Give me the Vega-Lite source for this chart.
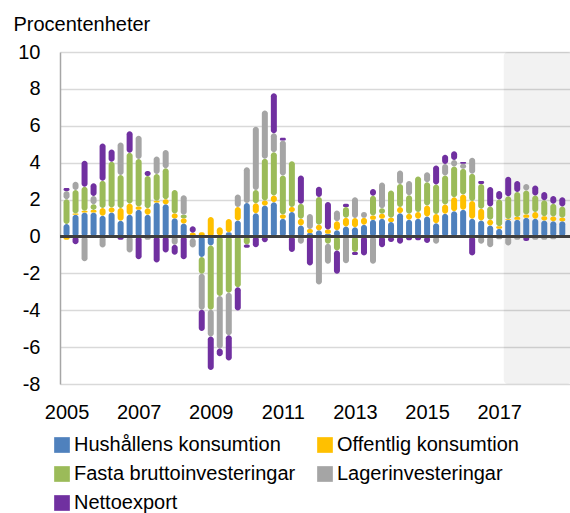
{
  "$schema": "https://vega.github.io/schema/vega-lite/v6.json",
  "width": 510,
  "height": 332,
  "autosize": {"type": "none"},
  "padding": {"left": 60, "top": 52, "right": 0, "bottom": 129},
  "background": "white",
  "config": {
    "view": {"stroke": null},
    "font": "Liberation Sans",
    "axisX": {"grid": false, "domain": false, "ticks": false,
              "labelFontSize": 20, "labelColor": "#000000", "labelFont": "Liberation Sans",
              "labelBaseline": "alphabetic", "labelPadding": 34,
              "labelFlush": false, "labelOverlap": false},
    "axisY": {"titleAngle": 0, "titleAlign": "left",
              "titleBaseline": "alphabetic", "titleX": -47, "titleY": -22,
              "titleFontSize": 20, "titleFontWeight": "normal", "titleColor": "#000000",
              "titleFont": "Liberation Sans", "tickCount": 10,
              "labelFontSize": 20, "labelColor": "#000000", "labelFont": "Liberation Sans",
              "labelPadding": 20, "ticks": false, "labelOverlap": false, "labelFlush": false,
              "domain": true, "domainColor": "#a6a6a6", "domainWidth": 1.5,
              "grid": true, "gridColor": "#d9d9d9", "gridWidth": 1.5}
  },
  "datasets": {
    "qdata": [
      {"q": 0, "s1": 0.67, "s2": -0.18, "s3": 1.35, "s4": 0.45, "s5": 0.15},
      {"q": 1, "s1": 1.17, "s2": 0.07, "s3": 1.28, "s4": 0.45, "s5": -0.42},
      {"q": 2, "s1": 1.3, "s2": 0.09, "s3": 1.3, "s4": -1.35, "s5": 1.41},
      {"q": 3, "s1": 1.3, "s2": 0.14, "s3": 0.3, "s4": 0.45, "s5": 0.69},
      {"q": 4, "s1": 1.12, "s2": 0.42, "s3": 1.48, "s4": -0.6, "s5": 2.02},
      {"q": 5, "s1": 1.3, "s2": 0.27, "s3": 2.48, "s4": 0, "s5": 0.67},
      {"q": 6, "s1": 0.85, "s2": 0.69, "s3": 1.79, "s4": 1.77, "s5": -0.18},
      {"q": 7, "s1": 1.17, "s2": 0.61, "s3": 2.76, "s4": -0.87, "s5": 1.17},
      {"q": 8, "s1": 1.45, "s2": 0.18, "s3": 2.57, "s4": 1.26, "s5": -1.23},
      {"q": 9, "s1": 1.17, "s2": 0.36, "s3": 1.75, "s4": -0.18, "s5": 0.27},
      {"q": 10, "s1": 1.84, "s2": 0.09, "s3": 1.45, "s4": 0.96, "s5": -1.41},
      {"q": 11, "s1": 1.75, "s2": 0.27, "s3": 1.68, "s4": 0.99, "s5": -0.87},
      {"q": 12, "s1": 0.99, "s2": 0.25, "s3": 1.28, "s4": -0.45, "s5": -0.54},
      {"q": 13, "s1": 0.7, "s2": 0.29, "s3": 0.18, "s4": 1.07, "s5": -1.23},
      {"q": 14, "s1": -0.1, "s2": 0.2, "s3": 0, "s4": -0.5, "s5": 0.35},
      {"q": 15, "s1": -1.12, "s2": 0.23, "s3": -0.9, "s4": -1.95, "s5": -1.16},
      {"q": 16, "s1": -0.49, "s2": 1.05, "s3": -3.49, "s4": -1.45, "s5": -1.81},
      {"q": 17, "s1": 0.05, "s2": 0.45, "s3": -3.23, "s4": -2.85, "s5": -0.42},
      {"q": 18, "s1": 0.23, "s2": 0.72, "s3": -3.05, "s4": -2.31, "s5": -1.36},
      {"q": 19, "s1": 0.87, "s2": 0.72, "s3": -2.75, "s4": 0.69, "s5": -1.26},
      {"q": 20, "s1": 1.82, "s2": 0, "s3": -0.43, "s4": 1.93, "s5": -0.18},
      {"q": 21, "s1": 1.26, "s2": 0.54, "s3": 0.72, "s4": 3.43, "s5": -0.58},
      {"q": 22, "s1": 1.68, "s2": 0.27, "s3": 2.26, "s4": 2.62, "s5": -0.31},
      {"q": 23, "s1": 1.86, "s2": 0.36, "s3": 2.35, "s4": 1.03, "s5": 2.17},
      {"q": 24, "s1": 0.96, "s2": 0.23, "s3": 2.11, "s4": 1.9, "s5": 0.15},
      {"q": 25, "s1": 1.32, "s2": 0.27, "s3": 2.49, "s4": 0, "s5": -0.85},
      {"q": 26, "s1": 0.6, "s2": 0.36, "s3": 0.81, "s4": -0.4, "s5": 1.54},
      {"q": 27, "s1": 0.18, "s2": 0.23, "s3": 0, "s4": 0.81, "s5": -1.57},
      {"q": 28, "s1": 0.33, "s2": 0.31, "s3": 1.5, "s4": -2.6, "s5": 0.55},
      {"q": 29, "s1": 0.15, "s2": 0.22, "s3": -0.4, "s4": -1.08, "s5": 1.5},
      {"q": 30, "s1": 0.33, "s2": 0.5, "s3": -0.76, "s4": 0.58, "s5": -1.26},
      {"q": 31, "s1": 0.54, "s2": 0.47, "s3": 0.58, "s4": -1.45, "s5": 0.18},
      {"q": 32, "s1": 0.5, "s2": 0.5, "s3": -0.85, "s4": 1.12, "s5": -0.15},
      {"q": 33, "s1": 0.63, "s2": 0.38, "s3": 0, "s4": 0.31, "s5": -1.03},
      {"q": 34, "s1": 0.9, "s2": 0.23, "s3": 1.08, "s4": -1.48, "s5": 0.36},
      {"q": 35, "s1": 0.96, "s2": 0.27, "s3": 0.3, "s4": 1.4, "s5": -0.58},
      {"q": 36, "s1": 0.78, "s2": 0.23, "s3": 1.48, "s4": 0, "s5": -0.3},
      {"q": 37, "s1": 1.26, "s2": 0.33, "s3": 1.26, "s4": 0.72, "s5": -0.4},
      {"q": 38, "s1": 0.9, "s2": 0.33, "s3": 1.0, "s4": 0.78, "s5": -0.2},
      {"q": 39, "s1": 0.96, "s2": 0.36, "s3": 1.93, "s4": 0, "s5": -0.2},
      {"q": 40, "s1": 1.08, "s2": 0.6, "s3": 1.26, "s4": 0.54, "s5": -0.36},
      {"q": 41, "s1": 0.72, "s2": 0.5, "s3": 1.6, "s4": -0.4, "s5": 1.03},
      {"q": 42, "s1": 1.23, "s2": 0.5, "s3": 1.57, "s4": 0.63, "s5": 0.5},
      {"q": 43, "s1": 1.37, "s2": 0.76, "s3": 1.66, "s4": 0.36, "s5": 0.47},
      {"q": 44, "s1": 1.45, "s2": 0.83, "s3": 1.39, "s4": 0.27, "s5": 0.1},
      {"q": 45, "s1": 0.96, "s2": 0.96, "s3": 1.48, "s4": 0.87, "s5": -1.03},
      {"q": 46, "s1": 0.87, "s2": 0.63, "s3": 1.35, "s4": -0.4, "s5": 0.15},
      {"q": 47, "s1": 0.6, "s2": 0.31, "s3": 0.72, "s4": -0.58, "s5": 1.05},
      {"q": 48, "s1": 0.42, "s2": 0.13, "s3": 1.45, "s4": -0.15, "s5": 0.47},
      {"q": 49, "s1": 0.9, "s2": 0.05, "s3": 1.23, "s4": -0.49, "s5": 1.05},
      {"q": 50, "s1": 0.9, "s2": 0.15, "s3": 1.36, "s4": -0.18, "s5": 0.6},
      {"q": 51, "s1": 1.01, "s2": 0.18, "s3": 1.3, "s4": 0.36, "s5": -0.25},
      {"q": 52, "s1": 0.96, "s2": 0.36, "s3": 0.9, "s4": -0.18, "s5": 0.54},
      {"q": 53, "s1": 0.87, "s2": 0.22, "s3": 0.87, "s4": -0.18, "s5": 0.45},
      {"q": 54, "s1": 0.83, "s2": 0.25, "s3": 0.69, "s4": -0.15, "s5": 0.42},
      {"q": 55, "s1": 0.83, "s2": 0.18, "s3": 0.61, "s4": 0, "s5": 0.5}
    ],
    "fcst": [{"x0": 48.5, "x1": 56, "y0": -8, "y1": 10}],
    "baseline": [{"y": 0}]
  },
  "layer": [
    {
      "data": {"name": "fcst"},
      "mark": {"type": "rect", "fill": "#000000", "fillOpacity": 0.05, "cornerRadius": 4, "clip": true},
      "encoding": {
        "x": {"field": "x0", "type": "quantitative",
              "scale": {"domain": [-0.17, 55.3], "nice": false, "zero": false},
              "axis": {"title": null, "values": [0, 8, 16, 24, 32, 40, 48],
                       "labelExpr": "'' + (2005 + datum.value / 4)"}},
        "x2": {"field": "x1"},
        "y": {"field": "y0", "type": "quantitative",
              "scale": {"domain": [-8, 10], "nice": false, "zero": false},
              "axis": {"title": "Procentenheter", "values": [-8, -6, -4, -2, 0, 2, 4, 6, 8, 10],
                       "labelExpr": "'' + datum.value"}},
        "y2": {"field": "y1"}
      }
    },
    {
      "data": {"name": "qdata"},
      "transform": [
        {"fold": ["s1", "s2", "s3", "s4", "s5"], "as": ["key", "val"]},
        {"filter": "datum.val != 0"},
        {"stack": "val", "groupby": ["q"], "sort": [{"field": "key", "order": "ascending"}],
         "offset": "zero", "as": ["v0", "v1"]}
      ],
      "mark": {"type": "bar", "size": 6, "cornerRadius": 3, "clip": true},
      "encoding": {
        "x": {"field": "q", "type": "quantitative",
              "axis": {"title": null, "values": [0, 8, 16, 24, 32, 40, 48],
                       "labelExpr": "'' + (2005 + datum.value / 4)"}},
        "y": {"field": "v0", "type": "quantitative",
              "axis": {"title": "Procentenheter", "values": [-8, -6, -4, -2, 0, 2, 4, 6, 8, 10],
                       "labelExpr": "'' + datum.value"}},
        "y2": {"field": "v1"},
        "color": {"field": "key", "type": "nominal",
                  "scale": {"domain": ["s1", "s2", "s3", "s4", "s5"],
                            "range": ["#4f81bd", "#ffc000", "#9bbb59", "#a5a5a5", "#7030a0"]},
                  "legend": {"title": null, "orient": "none", "legendX": -8, "legendY": 383,
                             "direction": "horizontal", "columns": 2,
                             "symbolType": "square", "symbolSize": 246, "symbolStrokeWidth": 0,
                             "labelFontSize": 20, "labelFont": "Liberation Sans", "labelColor": "#000000",
                             "labelOffset": 2, "labelLimit": 400, "rowPadding": 9, "columnPadding": 19,
                             "padding": 0,
                             "labelExpr": "{'s1': 'Hushållens konsumtion', 's2': 'Offentlig konsumtion', 's3': 'Fasta bruttoinvesteringar', 's4': 'Lagerinvesteringar', 's5': 'Nettoexport'}[datum.value]"}}
      }
    },
    {
      "data": {"name": "baseline"},
      "mark": {"type": "rule", "color": "#3f3f3f", "strokeWidth": 3},
      "encoding": {
        "y": {"field": "y", "type": "quantitative",
              "axis": {"title": "Procentenheter", "values": [-8, -6, -4, -2, 0, 2, 4, 6, 8, 10],
                       "labelExpr": "'' + datum.value"}}
      }
    }
  ]
}
